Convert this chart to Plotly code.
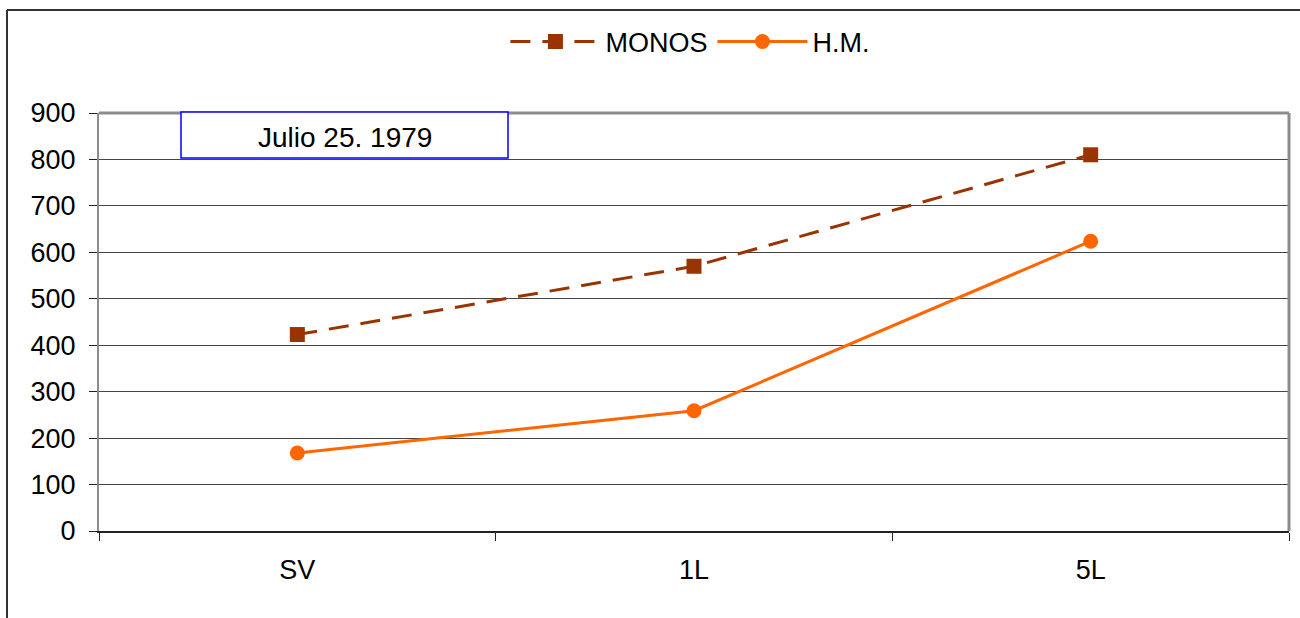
import plotly.graph_objects as go

# Categories and series values
categories = ["SV", "1L", "5L"]
monos = [423, 570, 810]
hm = [168, 259, 624]
y_ticks = [0, 100, 200, 300, 400, 500, 600, 700, 800, 900]
box_label = "Julio 25. 1979"

FONT = "Liberation Sans, Arial, sans-serif"
W, H = 1300, 618
L, R, T, B = 99, 11, 113, 87
plot_w = W - L - R
plot_h = H - T - B


def px_x(px):
    return (px - L) / plot_w


def px_y(py):
    return (H - B - py) / plot_h


fig = go.Figure()

fig.add_trace(go.Scatter(
    x=categories, y=monos, name="MONOS", mode="lines+markers",
    line=dict(color="#993300", width=3, dash="20px,12px"),
    marker=dict(symbol="square", size=15, color="#993300"),
))
fig.add_trace(go.Scatter(
    x=categories, y=hm, name="H.M.", mode="lines+markers",
    line=dict(color="#FF6600", width=3),
    marker=dict(symbol="circle", size=15, color="#FF6600"),
))

shapes = [
    # outer chart border (top and left edges)
    dict(type="line", xref="paper", yref="paper",
         x0=px_x(7), x1=px_x(1300), y0=px_y(10), y1=px_y(10),
         line=dict(color="#333333", width=2)),
    dict(type="line", xref="paper", yref="paper",
         x0=px_x(7), x1=px_x(7), y0=px_y(10), y1=px_y(618),
         line=dict(color="#333333", width=2)),
    # plot frame top and right
    dict(type="line", xref="paper", yref="paper", x0=0, x1=1, y0=1, y1=1,
         line=dict(color="#8c8c8c", width=3)),
    dict(type="line", xref="paper", yref="paper", x0=1, x1=1, y0=0, y1=1,
         line=dict(color="#8c8c8c", width=3)),
    # label box
    dict(type="rect", xref="paper", yref="paper",
         x0=px_x(181), x1=px_x(508), y0=px_y(158), y1=px_y(112),
         line=dict(color="#0000FF", width=1.5), fillcolor="white"),
]

fig.update_layout(
    width=W, height=H,
    margin=dict(l=L, r=R, t=T, b=B),
    paper_bgcolor="white", plot_bgcolor="white",
    font=dict(family=FONT, size=27, color="black"),
    showlegend=True,
    legend=dict(orientation="h", x=0.497, xanchor="center", y=px_y(42), yanchor="middle",
                font=dict(size=27), itemwidth=90, bgcolor="rgba(0,0,0,0)",
                traceorder="normal"),
    shapes=shapes,
    annotations=[dict(text=box_label, xref="paper", yref="paper",
                      x=px_x(344.5), y=px_y(137), xanchor="center", yanchor="middle",
                      showarrow=False, font=dict(size=28, family=FONT, color="black"))],
    xaxis=dict(
        type="category", range=[-0.5, 2.5], tickson="boundaries",
        ticks="outside", ticklen=8, tickcolor="#222222", tickwidth=1,
        showline=True, linecolor="#222222", linewidth=2,
        showgrid=False, zeroline=False, ticklabelstandoff=14,
    ),
    yaxis=dict(
        range=[0, 900], tickvals=y_ticks,
        ticks="outside", ticklen=8, tickcolor="#222222", tickwidth=1,
        showline=True, linecolor="#8c8c8c", linewidth=2,
        showgrid=True, gridcolor="#444444", gridwidth=1,
        zeroline=False, ticklabelstandoff=8,
    ),
)

fig.write_html("out.html")
